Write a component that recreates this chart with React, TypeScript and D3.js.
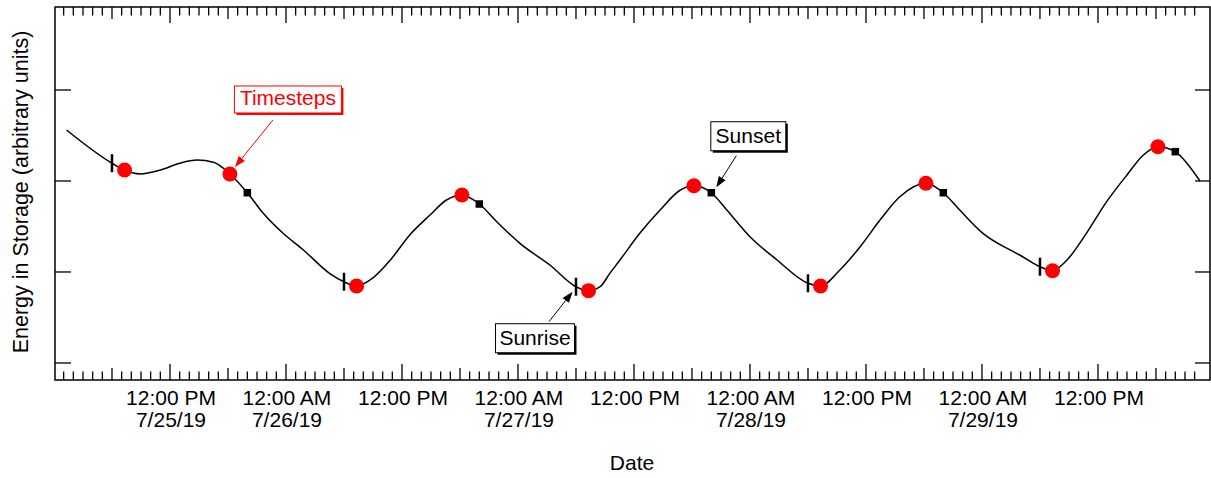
import React from "react";
import * as d3 from "d3";

// Hours since 2019-07-25 00:00 and energy (arbitrary units)
const curveHours = [1.3, 6, 7.3, 8.9, 11, 13, 14.8, 16.5, 18.2, 20, 21.65, 23.7, 25.8, 28.5, 30, 31.3, 32.7, 34.8, 36.8, 38.9, 40.6, 42.2, 44, 45.8, 48.2, 51.3, 54, 55.3, 56.5, 57.5, 58.55, 60.6, 62.7, 64.8, 66.2, 68, 69.6, 72, 74.8, 78, 79.3, 81.3, 83.4, 85.45, 87.5, 90.2, 92, 93.7, 96.1, 98.9, 99.9, 102, 103.3, 104.8, 106.8, 108.9, 111, 112.7, 114.2, 116, 117.2, 118.55];
const curveEnergy = [2.56, 2.195, 2.12, 2.077, 2.12, 2.195, 2.23, 2.205, 2.077, 1.871, 1.645, 1.425, 1.242, 0.986, 0.893, 0.846, 0.912, 1.132, 1.407, 1.626, 1.791, 1.846, 1.747, 1.553, 1.315, 1.077, 0.838, 0.795, 0.838, 0.985, 1.132, 1.425, 1.681, 1.901, 1.948, 1.871, 1.681, 1.388, 1.132, 0.876, 0.846, 1.022, 1.278, 1.571, 1.827, 1.975, 1.871, 1.681, 1.425, 1.242, 1.187, 1.058, 1.014, 1.132, 1.425, 1.773, 2.066, 2.286, 2.377, 2.322, 2.195, 2.0];

const timestepHours = [7.3, 18.2, 31.3, 42.2, 55.3, 66.2, 79.3, 90.2, 103.3, 114.2];
const timestepEnergy = [2.12, 2.077, 0.846, 1.846, 0.795, 1.948, 0.846, 1.975, 1.014, 2.377];

const sunriseHours = [6, 30, 54, 78, 102];
const sunriseEnergy = [2.195, 0.893, 0.838, 0.876, 1.058];

const sunsetHours = [20, 44, 68, 92, 116];
const sunsetEnergy = [1.871, 1.747, 1.871, 1.871, 2.322];

const xLabelHours = [12, 24, 36, 48, 60, 72, 84, 96, 108];
const xLabelTime = ["12:00 PM", "12:00 AM", "12:00 PM", "12:00 AM", "12:00 PM", "12:00 AM", "12:00 PM", "12:00 AM", "12:00 PM"];
const xLabelDate = ["7/25/19", "7/26/19", "", "7/27/19", "", "7/28/19", "", "7/29/19", ""];

const yTickValues = [0, 1, 2, 3];

const FONT = "'Liberation Sans', Arial, Helvetica, sans-serif";

export default function App() {
  const width = 1211;
  const height = 478;
  const left = 55, right = 1210, top = 7, bottom = 380;

  const x = d3.scaleLinear().domain([0.104, 119.59]).range([left, right]);
  const y = d3.scaleLinear().domain([-0.187, 3.912]).range([bottom, top]);

  const line = d3
    .line<number>()
    .x((i) => x(curveHours[i]))
    .y((i) => y(curveEnergy[i]))
    .curve(d3.curveMonotoneX);
  const path = line(d3.range(curveHours.length)) || "";

  const tickHours = d3.range(1, 119);
  const tickLen = (h: number) => (h % 12 === 0 ? 16 : h % 6 === 0 ? 12 : 8.5);

  const arrow = (x1: number, y1: number, x2: number, y2: number, color: string) => {
    const ang = Math.atan2(y2 - y1, x2 - x1);
    const L = 11, W = 4;
    const bx = x2 - L * Math.cos(ang), by = y2 - L * Math.sin(ang);
    const px = -Math.sin(ang) * W, py = Math.cos(ang) * W;
    return (
      <g>
        <line x1={x1} y1={y1} x2={bx} y2={by} stroke={color} strokeWidth={1} />
        <polygon points={`${x2},${y2} ${bx + px},${by + py} ${bx - px},${by - py}`} fill={color} />
      </g>
    );
  };
  const box = (cx: number, yTop: number, w: number, h: number, text: string, color: string) => (
    <g>
      <rect x={cx - w / 2 + 2} y={yTop + 2} width={w} height={h} fill={color} />
      <rect x={cx - w / 2} y={yTop} width={w} height={h} fill="white" stroke={color} strokeWidth={1} />
      <text x={cx} y={yTop + h - 7.5} textAnchor="middle" fontSize={21} fill={color} fontFamily={FONT}>
        {text}
      </text>
    </g>
  );

  const tsX = x(timestepHours[1]), tsY = y(timestepEnergy[1]);
  const srX = x(sunriseHours[2]), srY = y(sunriseEnergy[2]);
  const ssX = x(sunsetHours[2]), ssY = y(sunsetEnergy[2]);

  return (
    <svg width={width} height={height} style={{ position: "absolute", left: 0, top: 0 }}>
      <rect x={0} y={0} width={width} height={height} fill="white" />
      <rect x={left} y={top} width={right - left} height={bottom - top} fill="none" stroke="black" strokeWidth={1.5} />
      {tickHours.map((h) => (
        <g key={"t" + h}>
          <line x1={x(h)} x2={x(h)} y1={bottom} y2={bottom - tickLen(h)} stroke="black" strokeWidth={1.3} />
          <line x1={x(h)} x2={x(h)} y1={top} y2={top + tickLen(h)} stroke="black" strokeWidth={1.3} />
        </g>
      ))}
      {yTickValues.map((v) => (
        <g key={"y" + v}>
          <line x1={left} x2={left + 16} y1={y(v)} y2={y(v)} stroke="black" strokeWidth={1.3} />
          <line x1={right} x2={right - 15} y1={y(v)} y2={y(v)} stroke="black" strokeWidth={1.3} />
        </g>
      ))}
      {xLabelHours.map((h, i) => (
        <g key={"l" + h} fontFamily={FONT} fontSize={21} textAnchor="middle" fill="black">
          <text x={x(h) + 1} y={405}>{xLabelTime[i]}</text>
          {xLabelDate[i] && <text x={x(h) + 1} y={427}>{xLabelDate[i]}</text>}
        </g>
      ))}
      <text x={632} y={470} textAnchor="middle" fontSize={21} fontFamily={FONT}>Date</text>
      <text
        transform={`translate(28,192) rotate(-90)`}
        textAnchor="middle"
        fontSize={21.5}
        fontFamily={FONT}
      >
        Energy in Storage (arbitrary units)
      </text>

      <path d={path} fill="none" stroke="black" strokeWidth={1.5} />

      {sunriseHours.map((h, i) => (
        <rect key={"sr" + i} x={x(h) - 1.25} y={y(sunriseEnergy[i]) - 9} width={2.5} height={18} fill="black" />
      ))}
      {sunsetHours.map((h, i) => (
        <rect key={"ss" + i} x={x(h) - 3.75} y={y(sunsetEnergy[i]) - 3.75} width={7.5} height={7.5} fill="black" />
      ))}
      {timestepHours.map((h, i) => (
        <circle key={"ts" + i} cx={x(h)} cy={y(timestepEnergy[i])} r={7.5} fill="#ff0000" />
      ))}

      {arrow(tsX + 43, tsY - 54, tsX + 5, tsY - 7, "#ff0000")}
      {box(tsX + 58, tsY - 88, 107, 27, "Timesteps", "#ff0000")}

      {arrow(srX - 27, srY + 35, srX - 3.4, srY + 5, "black")}
      {box(srX - 41, srY + 37, 79, 29, "Sunrise", "black")}

      {arrow(ssX + 25, ssY - 37, ssX + 5, ssY - 5.4, "black")}
      {box(ssX + 37, ssY - 71, 75, 29, "Sunset", "black")}
    </svg>
  );
}
